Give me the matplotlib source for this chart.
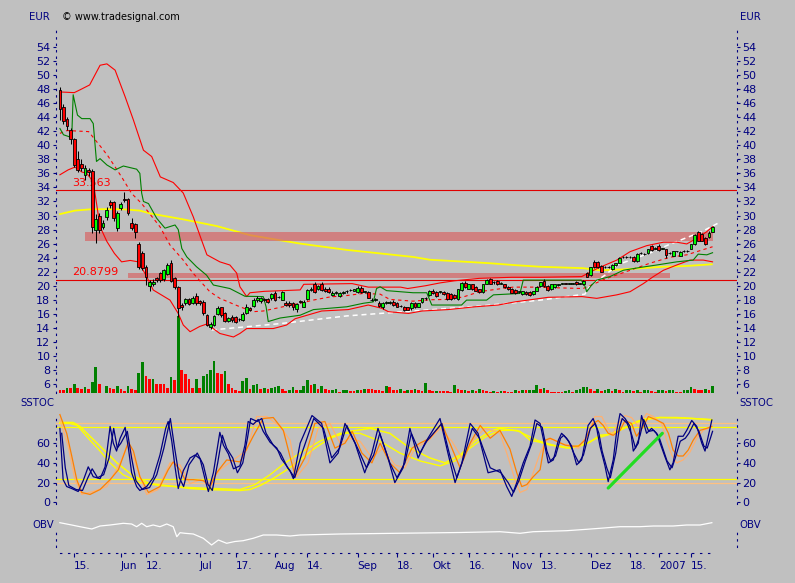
import numpy as np
import pandas as pd
import matplotlib
matplotlib.use("Agg")
import matplotlib.pyplot as plt

W, H = 795, 583
BG = "#C0C0C0"
NAVY = "#000080"

# trading days shown (Xetra, christmas holidays removed)
trading_days = pd.bdate_range("2006-05-09", "2007-01-23")
trading_days = trading_days.drop(pd.to_datetime(["2006-12-25", "2006-12-26", "2007-01-01"]))

opens = [47.9, 45.5, 43.8, 42.2, 40.9, 38.0, 37.3, 35.8, 36.5, 36.4,
         27.9, 29.9, 28.4, 29.8, 31.9, 31.9, 28.2, 31.1, 32.4, 32.3,
         28.9, 28.8, 26.0, 24.7, 22.7, 20.0, 20.2, 21.05, 21.8, 20.9,
         21.7, 23.2, 21.05, 19.8, 17.25, 17.6, 18.1, 17.6, 18.5, 17.8,
         17.7, 15.8, 14.1, 14.4, 16.0, 16.9, 16.05, 15.0, 15.6, 15.5,
         15.2, 15.1, 16.15, 16.8, 17.1, 17.95, 17.8, 18.1, 18.05, 18.2,
         18.9, 18.4, 18.0, 17.6, 17.6, 17.5, 16.7, 17.8, 17.0, 18.1,
         19.4, 20.3, 19.6, 20.3, 19.5, 19.6, 18.7, 19.0, 18.5, 18.9,
         19.2, 19.4, 19.3, 19.15, 19.7, 19.15, 19.15, 18.0, 18.0, 17.55,
         16.9, 17.6, 17.6, 17.7, 17.6, 17.1, 17.0, 16.9, 16.8, 17.5,
         17.0, 17.7, 18.2, 18.7, 19.3, 19.15, 19.1, 19.15, 19.0, 18.8,
         18.7, 18.1, 19.4, 20.4, 19.6, 20.2, 19.8, 19.5, 19.15, 20.3,
         21.0, 20.5, 20.7, 20.3, 20.2, 19.8, 19.6, 19.4, 19.15, 18.8,
         19.15, 19.15, 18.8, 19.3, 19.9, 20.7, 20.0, 19.5, 19.8, 20.15,
         20.3, 20.35, 20.3, 20.3, 20.6, 20.3, 20.2, 21.8, 21.5, 23.4,
         23.4, 22.8, 22.6, 22.6, 22.4, 22.9, 23.3, 24.1, 24.1, 24.1,
         24.1, 23.5, 24.6, 24.5, 24.6, 25.6, 25.3, 25.7, 25.3, 25.2,
         24.6, 24.3, 24.9, 24.3, 24.95, 24.9, 25.3, 25.9, 27.6, 27.35,
         26.75, 26.9, 27.7]
highs = [48.3, 45.9, 44.0, 42.5, 41.0, 39.2, 38.0, 37.2, 36.8, 36.6,
         30.2, 30.4, 29.3, 31.2, 32.2, 32.1, 30.6, 31.9, 33.3, 32.5,
         29.6, 29.0, 26.2, 25.0, 22.9, 20.8, 20.9, 21.2, 22.0, 22.4,
         23.3, 23.7, 21.2, 20.0, 17.6, 18.3, 18.3, 18.6, 18.9, 18.0,
         17.9, 16.0, 14.9, 15.9, 17.1, 17.0, 16.2, 15.6, 15.8, 15.7,
         15.4, 16.2, 17.4, 17.0, 18.3, 18.5, 18.4, 18.3, 18.2, 19.0,
         19.3, 18.6, 19.3, 17.8, 17.8, 17.7, 17.6, 18.0, 17.9, 19.6,
         19.8, 20.6, 20.1, 20.5, 19.8, 19.8, 19.2, 19.2, 19.1, 19.3,
         19.4, 19.6, 19.6, 19.9, 19.9, 19.3, 19.3, 18.2, 18.2, 17.8,
         17.7, 17.8, 17.8, 17.9, 17.7, 17.3, 17.1, 17.0, 17.7, 17.7,
         17.6, 18.3, 18.4, 19.4, 19.5, 19.3, 19.3, 19.3, 19.1, 18.9,
         18.8, 19.6, 20.5, 20.7, 20.3, 20.3, 19.9, 19.6, 20.3, 20.9,
         21.1, 20.7, 20.8, 20.5, 20.3, 19.9, 19.7, 19.5, 19.3, 19.3,
         19.2, 19.2, 19.3, 19.9, 20.6, 20.9, 20.1, 20.3, 20.3, 20.3,
         20.4, 20.4, 20.4, 20.4, 20.7, 20.4, 20.8, 21.9, 22.7, 23.6,
         23.5, 22.9, 22.8, 22.8, 23.1, 23.3, 24.1, 24.3, 24.3, 24.3,
         24.2, 24.6, 24.8, 24.7, 25.3, 25.8, 25.5, 25.9, 25.4, 25.3,
         24.8, 25.0, 25.0, 24.9, 25.1, 25.1, 26.0, 27.3, 27.8, 27.5,
         26.9, 27.8, 28.5]
lows = [43.6, 43.0, 42.2, 40.2, 36.9, 36.2, 36.3, 35.1, 35.6, 27.5,
        26.1, 27.5, 28.1, 29.4, 31.0, 29.2, 27.8, 30.8, 31.9, 30.1,
        28.0, 26.8, 22.4, 22.2, 20.1, 19.2, 20.0, 20.6, 20.6, 20.7,
        21.5, 20.5, 19.6, 15.5, 16.6, 17.3, 17.2, 17.4, 17.2, 17.3,
        15.9, 14.2, 13.8, 14.3, 15.8, 15.6, 14.8, 14.8, 14.9, 14.7,
        15.0, 15.0, 16.0, 16.4, 17.0, 17.7, 17.6, 17.8, 17.5, 18.0,
        17.8, 18.2, 17.9, 17.1, 17.0, 16.6, 16.3, 17.5, 16.9, 17.9,
        19.2, 19.0, 19.4, 19.2, 19.1, 19.0, 18.5, 18.8, 18.4, 18.8,
        19.0, 19.2, 19.2, 19.0, 19.0, 19.0, 18.2, 17.8, 17.8, 17.0,
        16.7, 17.4, 17.4, 17.1, 16.9, 16.9, 16.4, 16.5, 16.6, 16.8,
        16.9, 17.6, 18.0, 18.6, 18.8, 18.4, 19.0, 18.7, 18.0, 18.0,
        18.1, 18.0, 19.3, 19.7, 19.5, 19.4, 19.2, 19.0, 19.0, 20.2,
        20.2, 20.3, 20.1, 20.2, 19.7, 19.4, 18.9, 18.8, 19.0, 18.7,
        18.7, 18.6, 18.7, 19.2, 19.8, 19.8, 19.3, 19.4, 19.7, 20.0,
        20.2, 20.2, 20.2, 20.2, 20.1, 20.2, 20.1, 21.2, 21.4, 22.5,
        22.5, 21.9, 22.5, 22.5, 22.3, 22.8, 23.2, 24.0, 24.0, 24.0,
        23.4, 23.4, 24.5, 24.4, 24.5, 25.0, 25.2, 25.0, 25.2, 24.0,
        24.5, 24.2, 24.8, 24.2, 24.8, 24.8, 25.2, 25.8, 26.3, 26.3,
        25.8, 26.8, 27.6]
closes = [45.2, 43.4, 42.7, 40.9, 37.2, 36.5, 36.8, 36.8, 36.2, 28.4,
          29.5, 27.9, 29.0, 30.8, 31.5, 29.6, 30.4, 31.6, 32.2, 30.4,
          28.2, 27.6, 22.7, 22.5, 21.3, 20.5, 20.6, 20.8, 20.8, 22.2,
          23.0, 20.7, 19.85, 16.8, 17.0, 18.1, 17.4, 18.3, 17.5, 17.6,
          16.05, 14.4, 14.55, 15.7, 16.8, 15.8, 15.0, 15.4, 15.1, 14.9,
          15.2, 15.95, 17.0, 16.6, 17.95, 18.3, 18.2, 18.0, 17.7, 18.8,
          17.9, 18.4, 19.1, 17.3, 17.2, 16.9, 17.4, 17.7, 17.7, 19.4,
          19.6, 19.15, 19.9, 19.4, 19.3, 19.15, 19.0, 19.0, 19.0, 19.15,
          19.2, 19.4, 19.5, 19.7, 19.15, 19.15, 18.3, 17.97, 18.0, 17.1,
          17.5, 17.6, 17.6, 17.25, 17.0, 17.1, 16.5, 16.6, 17.6, 16.9,
          17.5, 18.2, 18.2, 19.3, 18.9, 18.55, 19.2, 18.8, 18.1, 18.1,
          18.2, 19.5, 20.4, 19.8, 20.2, 19.5, 19.3, 19.15, 20.2, 20.8,
          20.3, 20.5, 20.2, 20.3, 19.8, 19.5, 19.0, 18.9, 19.15, 19.2,
          18.8, 18.7, 19.2, 19.8, 20.5, 19.9, 19.4, 20.2, 20.2, 20.15,
          20.3, 20.3, 20.3, 20.3, 20.2, 20.3, 20.7, 21.3, 22.6, 22.7,
          22.6, 22.0, 22.6, 22.6, 23.0, 23.2, 24.0, 24.1, 24.1, 24.1,
          23.5, 24.5, 24.6, 24.5, 25.2, 25.1, 25.3, 25.1, 25.3, 24.4,
          24.6, 24.9, 24.9, 24.8, 24.95, 24.9, 25.9, 27.2, 26.4, 26.4,
          26.0, 27.55, 28.3]
# volume, relative units
volumes = [3.3, 2.7, 5.3, 4.7, 9.3, 5.3, 4.3, 5.7, 3.7, 10.7,
           25.7, 9.3, 0.3, 6.7, 5.3, 4.3, 6.7, 4.3, 2.0, 6.7,
           4.3, 3.3, 20.0, 30.7, 16.7, 13.7, 14.0, 9.3, 9.3, 9.3,
           5.3, 15.7, 12.7, 76.7, 22.7, 18.7, 13.7, 5.3, 13.7, 5.3,
           16.7, 18.7, 22.7, 31.7, 20.0, 18.7, 21.7, 9.3, 5.3, 3.3,
           2.0, 12.0, 14.7, 4.3, 7.7, 8.7, 4.3, 5.3, 4.3, 5.3,
           5.7, 6.7, 4.0, 1.7, 2.7, 6.0, 2.7, 3.0, 6.7, 13.3,
           8.3, 8.7, 4.0, 6.7, 4.0, 2.7, 3.3, 3.5, 0.7, 2.7,
           3.3, 1.7, 1.5, 3.3, 3.0, 4.0, 3.7, 3.5, 3.3, 3.0,
           1.7, 7.3, 6.0, 2.7, 2.5, 4.0, 1.7, 3.3, 2.7, 4.0,
           3.3, 1.7, 10.0, 2.7, 1.7, 1.8, 1.7, 1.6, 1.5, 1.4,
           8.3, 4.0, 2.7, 2.8, 1.7, 3.3, 1.7, 4.0, 3.3, 1.7,
           1.2, 1.7, 0.7, 1.7, 1.5, 0.7, 0.5, 2.7, 1.7, 3.3,
           2.7, 3.3, 3.4, 7.7, 4.3, 4.5, 2.7, 1.0, 0.7, 0.7,
           0.6, 2.0, 2.7, 1.0, 2.7, 4.3, 6.0, 6.2, 4.3, 2.0,
           4.3, 2.0, 3.3, 4.3, 2.0, 4.3, 2.7, 1.0, 2.7, 3.3,
           2.0, 2.7, 0.7, 2.7, 3.3, 2.0, 1.0, 2.7, 3.3, 2.0,
           2.7, 3.3, 1.0, 0.7, 2.7, 3.3, 6.0, 4.3, 3.3, 2.7,
           4.3, 3.3, 6.7]

tick_dates = ["2006-05-15", "2006-06-01", "2006-06-12", "2006-07-03", "2006-07-17",
              "2006-08-01", "2006-08-14", "2006-09-01", "2006-09-18", "2006-10-02",
              "2006-10-16", "2006-11-01", "2006-11-13", "2006-12-01", "2006-12-18",
              "2007-01-02", "2007-01-15"]
tick_labels = ["15.", "Jun", "12.", "Jul", "17.", "Aug", "14.", "Sep", "18.", "Okt",
               "16.", "Nov", "13.", "Dez", "18.", "2007", "15."]

# indicator lines, vertices (bar index, value)
bb_upper_i = [0, 4, 5.6, 8.3, 11.2, 13.1, 15.4, 18.2, 20.5, 23.3, 25.6, 28, 31.6, 34.4, 37.2, 39.5,
              40.5, 41, 44.6, 47.4, 49.3, 50.2, 52.1, 53, 57, 67, 68, 81.5, 86, 95, 97, 102, 106,
              110, 117, 126, 134, 145.5, 150, 155.3, 159, 163.6, 168.3, 172, 174.8, 177.6, 180.4, 182]
bb_upper_v = [47.6, 47.5, 47.9, 48.6, 51.4, 51.6, 50.7, 46.9, 43.6, 39.3, 38.4, 35.5, 34.7, 33.2, 29.8,
              26.5, 25.1, 24.4, 23.4, 22.95, 21.8, 19.85, 18.45, 19.0, 19.2, 19.4, 20.2, 20.3, 19.8,
              19.8, 19.6, 20.0, 20.4, 20.7, 21.05, 21.2, 21.2, 21.3, 22.5, 23.65, 24.85, 25.7, 26.2,
              26.2, 25.95, 26.75, 27.7, 28.4]
bb_lower_i = [0, 2.3, 4.2, 6.1, 7.5, 9.3, 11.2, 13.1, 15.2, 17.2, 19.6, 21.9, 24.2, 26, 30.7, 33,
              34.4, 36.3, 39, 41, 44.6, 48.4, 50.2, 52.1, 59.5, 63.2, 65.6, 73, 80.4, 86, 89.7, 91.6,
              97.2, 101, 108.2, 115.8, 122.2, 126.9, 136.2, 145.6, 149.7, 155.3, 159, 162.7, 165.5,
              168.3, 172, 175.7, 179.4, 182]
bb_lower_v = [35.8, 36.5, 36.9, 36.2, 36.0, 34.8, 28.4, 26.3, 24.6, 23.4, 23.6, 23.4, 21.3, 19.4,
              17.95, 16.05, 14.4, 13.45, 14.2, 14.55, 13.2, 12.7, 13.2, 13.9, 13.9, 14.4, 15.3, 16.4,
              16.6, 17.25, 16.8, 16.3, 16.05, 16.4, 16.6, 17.0, 17.25, 17.7, 18.35, 18.45, 18.2, 18.7,
              19.15, 20.3, 21.3, 22.2, 22.95, 23.65, 23.65, 23.4]
bb_mid_i = [0, 2, 8, 9.8, 11.7, 13.5, 17.2, 20, 22.8, 27.9, 30.7, 34.3, 37.1, 41.8, 44.6, 50.2, 53.9,
            56.7, 62.2, 67, 70.6, 75.3, 80, 84.5, 89.3, 92, 98.5, 103.2, 107.9, 112.5, 117, 121.8,
            126.4, 132, 145.9, 152.5, 159, 164.5, 170.1, 174.8, 177.6, 180.4, 182]
bb_mid_v = [41.7, 42.1, 41.95, 40.8, 39.6, 38.4, 35.5, 33.15, 31.7, 28.4, 25.8, 23.7, 21.8, 19.15,
            18.2, 17.0, 16.3, 16.4, 17.0, 17.5, 17.95, 18.4, 18.6, 18.9, 18.8, 18.05, 17.8, 18.0,
            18.05, 18.4, 19.15, 19.5, 19.8, 19.8, 19.6, 21.05, 22.2, 23.2, 24.05, 24.4, 24.85, 25.3, 25.55]
green_i = [0, 1, 3.3, 3.7, 4.9, 6.1, 8.4, 9.3, 10.2, 11.2, 13.1, 15.4, 17.7, 21.4, 22.3, 22.8, 23.3,
           24.7, 27, 29.3, 32.1, 33, 34, 35.4, 38.1, 40.9, 42.8, 47.4, 51.6, 56.7, 57.5, 58.1, 61.4,
           67, 70.7, 80, 84.6, 87.4, 88.3, 89.3, 91.1, 98.5, 102.3, 103.7, 112, 113.4, 119, 120.9,
           128.3, 129.2, 145.4, 146.4, 146.9, 148.3, 149.7, 153.4, 157.1, 161.8, 166.4, 172, 176.6,
           178, 180.4, 182]
green_v = [42.4, 41.5, 41.1, 47.2, 44.3, 43.8, 43.8, 43.1, 37.7, 38.1, 37.2, 36.5, 37.05, 36.6, 36.0,
           33.2, 32.0, 31.7, 29.6, 28.2, 28.65, 28.0, 25.3, 24.1, 22.7, 21.5, 20.1, 19.6, 18.5, 18.45,
           17.0, 14.9, 15.4, 15.8, 16.6, 17.0, 17.5, 17.7, 19.6, 19.85, 19.3, 19.0, 19.0, 17.25, 17.25,
           17.95, 17.95, 18.7, 18.9, 20.8, 20.8, 19.95, 19.15, 20.1, 20.8, 21.3, 22.2, 22.6, 22.95,
           23.4, 23.65, 24.5, 24.4, 24.7]
white_i = [42.3, 61.4, 80, 98.5, 117, 134, 146.4, 148, 152, 155.6, 160.4, 165, 169.6, 174.3, 179, 183.5]
white_v = [13.7, 14.6, 15.7, 16.4, 17.1, 17.95, 18.8, 20.1, 21.5, 23.0, 23.9, 24.75, 25.8, 26.75, 27.7, 28.9]
ma_i = [0, 4.2, 8.9, 17.2, 22.3, 25.1, 34.4, 43.7, 53, 62.3, 67, 80, 89.3, 98.5, 103.2, 113.5, 120,
        126.4, 134, 145.9, 150.6, 156.2, 168.2, 174.3, 181.8]
ma_v = [30.2, 30.7, 30.9, 30.9, 30.7, 30.3, 29.45, 28.5, 27.2, 26.4, 26.0, 25.1, 24.6, 24.1, 23.7,
        23.4, 23.2, 22.95, 22.7, 22.5, 22.2, 22.3, 22.7, 22.8, 23.05]

levels = [33.563, 20.8799]
level_labels = ["33.563", "20.8799"]
zone_lo = [26.3, 21.05]
zone_hi = [27.65, 21.85]
zone_start = [7.0, 19.0]
zone_end = [182.1, 170.1]

# SSTOC panel
navy1_i = [0, 0.9, 1.9, 3.3, 5.1, 6.5, 7.9, 9.3, 11.2, 12.6, 14, 14.9, 15.8, 16.8, 18.2, 19.1, 20,
           21.4, 22.3, 24.2, 26, 27.9, 29.5, 30.2, 31.2, 32.1, 33, 34.4, 36.3, 37.7, 39.1, 40.5,
           41.4, 42.8, 44.6, 45.6, 47, 48.4, 50.2, 51.6, 52.5, 53.9, 55.3, 56.7, 58.6, 60.5, 61.8,
           64.2, 65.1, 67, 70.3, 73, 75.3, 77.6, 79.5, 82.3, 85, 87, 88.7, 91.5, 93.4, 95.7, 97.6,
           99.9, 101.8, 106, 108.2, 110.2, 112.1, 114.4, 116.6, 119.4, 122.7, 124.6, 126, 127.4,
           129.2, 131.1, 132.5, 133.9, 135.3, 136.2, 137.6, 139, 139.9, 141.3, 142.7, 144.1, 145.5,
           147.3, 148.7, 149.7, 150.6, 152, 152.9, 154.3, 155.3, 156.2, 157.6, 159, 159.9, 161.3,
           162.2, 163.6, 165, 166.4, 168.7, 170.1, 171, 172.4, 173.8, 174.8, 176.2, 177.6, 179,
           179.9, 180.8, 181.8]
navy1_v = [75, 23, 16, 14, 11, 22, 36, 26, 24, 36, 77, 60, 52, 65, 76, 55, 30, 16, 12, 16,
           25, 48, 75, 82, 62, 36, 14, 32, 45, 48, 44, 23, 11, 30, 71, 58, 49, 34, 37, 58,
           82, 79, 84, 72, 61, 55, 44, 32, 24, 60, 88, 80, 40, 50, 80, 60, 30, 50, 75, 45,
           20, 35, 75, 45, 60, 85, 50, 20, 40, 80, 70, 30, 33, 16, 6, 20, 40, 57, 83.5, 80,
           56, 40, 43, 63, 70, 65, 57, 38, 43, 78, 85, 75, 57, 37, 21, 43, 73, 90, 85, 77,
           52, 60, 88, 70, 75, 70, 46.5, 33, 40, 67, 67, 73, 83, 77, 60, 52, 67, 83.5]
navy2_i = [0.5, 1.5, 2.5, 4.5, 6.3, 7.8, 9, 10.5, 12.2, 13.7, 15, 16, 17, 18.8, 20, 21.2, 23, 25,
           27, 29, 30.8, 32, 33.3, 34.5, 36, 38.3, 40, 41.3, 42.5, 44, 45.3, 46.5, 48.2, 49.5, 51,
           52.3, 53.2, 55, 56.3, 57.5, 59.5, 61.5, 63.5, 65.5, 67.5, 70.8, 73.5, 75.8, 78, 80, 83,
           85.5, 87.5, 89.2, 92, 94, 96.2, 98, 100.4, 102.3, 106.5, 108.7, 110.7, 112.6, 115, 117,
           120, 123, 125, 126.5, 128, 129.8, 131.6, 133, 134.5, 135.8, 136.8, 138.2, 139.6, 140.5,
           141.9, 143.3, 144.7, 146, 147.9, 149.3, 150.3, 151.2, 152.5, 153.5, 155, 156, 156.8,
           158.2, 159.5, 160.5, 161.8, 162.8, 164.2, 165.6, 167, 169.3, 170.7, 171.6, 173, 174.4,
           175.4, 176.8, 178.2, 179.6, 180.5, 181.4, 182]
navy2_v = [70, 35, 17, 13, 12, 25, 34, 25, 28, 45, 75, 55, 60, 72, 45, 22, 13, 15, 28, 55,
           85, 55, 25, 16, 38, 50, 38, 18, 12, 40, 68, 55, 45, 30, 40, 65, 85, 82, 85, 70,
           58, 50, 35, 25, 50, 85, 75, 45, 55, 78, 55, 35, 48, 70, 40, 25, 40, 70, 50, 62,
           80, 48, 25, 45, 75, 65, 35, 30, 20, 10, 22, 42, 60, 80, 76, 52, 42, 47, 65, 68,
           62, 50, 40, 48, 75, 80, 70, 52, 35, 25, 50, 75, 85, 80, 68, 55, 68, 84, 72, 73,
           67, 42, 35, 45, 62, 65, 70, 80, 72, 57, 55, 65, 72]
orange_i = [0, 1.9, 3.3, 4.7, 6.1, 8.4, 11.2, 14, 16.3, 19.1, 20.5, 22.3, 24.7, 27.9, 30.2, 31.6,
            33.5, 34.9, 37.2, 40, 41.9, 43.7, 46.5, 50.2, 53.9, 56.7, 59.5, 62.3, 64.2, 65.6, 68.3,
            71.1, 73.9, 76.7, 79.5, 81.5, 84.2, 87, 89.3, 92, 94.8, 98.2, 100.4, 103.2, 106.5,
            109.3, 111.6, 114.4, 117.2, 120, 122.7, 125.5, 127.4, 128.8, 130.2, 132, 133.9, 135.3,
            136.7, 138.5, 140.9, 142.7, 144.6, 146.4, 148.7, 150.1, 151.5, 152.9, 154.3, 156.2,
            157.6, 159.4, 160.8, 162.7, 164.1, 166.4, 168.3, 169.7, 171, 172.4, 173.8, 175.2,
            176.6, 178.5, 180.4, 181.8]
orange_v = [89, 70, 47, 23, 10, 8, 13, 23, 33, 61, 52, 26, 10, 16, 33, 41, 33, 23, 23, 22,
            16, 30, 43, 41, 67, 85, 86, 73, 46, 27, 45, 80, 82, 55, 60, 72, 50, 40, 60, 40,
            30, 55, 60, 65, 80, 55, 35, 60, 78, 65, 73, 54, 30, 16, 18, 26, 33, 63, 65, 62,
            58, 57, 57, 63, 80, 83, 78, 70, 68, 73, 83, 80, 67, 77, 87, 83.5, 80, 70, 53, 47,
            47, 53, 63, 73, 75, 77]
peach_i = [0, 2.3, 4.2, 6.1, 9.3, 13.1, 16.8, 19.1, 21.4, 24.2, 27.4, 30.7, 33.5, 36.3, 39.1,
           41.9, 44.6, 48.4, 52.1, 54.9, 57.7, 61.4, 64.2, 66, 69.2, 72, 75.3, 78.1, 80.9, 83.7,
           87, 90.1, 93.4, 96.2, 99, 102.6, 106, 109.3, 112.1, 115.7, 118.5, 121.3, 122.7, 124.6,
           126.9, 128.3, 130.2, 132, 133.9, 135.7, 137.5, 139.5, 142.2, 144.6, 146.9, 149.2,
           151.1, 152.5, 153.9, 155.7, 157.6, 159.4, 161.3, 163.6, 165.5, 167.8, 169.2, 170.6,
           172, 173.8, 175.7, 177.6, 179.4, 181.8]
peach_v = [84, 57, 23, 8, 11, 16, 40, 60, 36, 8, 13, 40, 38, 19, 23, 19, 33, 43, 53, 87,
           87, 77, 63, 26, 40, 75, 80, 60, 65, 62, 45, 55, 38, 35, 55, 62, 75, 62, 45, 65,
           75, 72, 70, 50, 23, 10, 13, 30, 50, 63, 64, 60, 58, 55, 67, 87, 87, 77, 68, 80,
           88, 86, 77, 90, 87, 80, 63, 48, 40, 43, 51, 65, 73, 77]
slow_a_i = [0, 3.7, 5.6, 11.2, 15.9, 20.4, 25.1, 32.1, 36.3, 41, 50.2, 53, 55.8, 59.4, 63.3, 67,
            71.1, 75.3, 80.9, 86.5, 92, 97.6, 103.2, 107.4, 111.6, 115.7, 120, 122.7, 128.3,
            131.1, 133.9, 136.7, 139.5, 142.3, 145, 147.8, 150.6, 153.4, 156.2, 159.9, 163.6,
            167.3, 172, 176.6, 181.8]
slow_a_v = [81, 81, 77, 57, 40, 27, 19, 16, 14, 13, 12, 13, 17, 24, 33, 43, 55, 65, 72, 75,
            70, 55, 45, 40, 48, 62, 72, 75, 72, 63, 61, 58, 57, 55, 57, 61, 68, 69, 73, 80,
            84, 86, 86, 85, 83.5]
slow_b_i = [0, 2.8, 4.8, 8.4, 11.2, 14, 17.6, 22.3, 27.9, 36.3, 50.2, 54.4, 58.6, 62.8, 67, 72.5,
            78.1, 83.7, 89.3, 94.8, 100.4, 106, 110.2, 114.4, 118.5, 122.7, 127.4, 130.2, 133,
            135.7, 138.5, 141.3, 144.1, 146.9, 149.7, 152.5, 155.3, 158.1, 160.8, 163.6, 167.3,
            174, 181.8]
slow_b_v = [80, 80, 78, 63, 52, 40, 28, 20, 17, 15, 13, 18, 28, 40, 50, 62, 70, 70, 62, 50,
            42, 37, 42, 55, 66, 73, 73, 68, 63, 60, 57, 55, 57, 60, 65, 68, 72, 77, 82, 85,
            86, 85.5, 84]
div_i = [152.9, 168]
div_v = [14.5, 70]

obv_i = [0, 3.3, 5.6, 8.9, 11.2, 14, 17.7, 20, 21.4, 22.8, 24.2, 26, 27.9, 29.8, 31.6, 32.6, 33.5,
         34.9, 37.2, 40, 42.3, 44.2, 46.5, 48.8, 51.1, 53.9, 56.7, 60.5, 64.2, 67, 78.1, 89.3,
         100.4, 111.6, 122.7, 128.3, 132, 141.3, 146.9, 150.6, 156.2, 161.7, 165.5, 171, 174.8,
         178.5, 181.8]
obv_v = [22.3, 20, 18.3, 16, 19, 20, 21.7, 21, 18.3, 21.7, 18.3, 20, 18.3, 21, 18.3, 8.3, 12.3,
         11.7, 11, 6.7, 0, 5, 1.7, 3.5, 4.3, 6.7, 10, 10, 9, 10, 11, 11.5, 12, 12.5, 13.3, 11.7,
         13.3, 14.3, 15.7, 16.7, 18.3, 18.3, 19, 19, 20, 20, 22.3]

# ---------------------------------------------------------------- layout
fig = plt.figure(figsize=(W / 100, H / 100), dpi=100, facecolor=BG)
AX_L, AX_R = 56, 737
BAR_X0, BAR_DX = 59.9, 3.586   # pixel of first bar and bar spacing
XLIM = ((AX_L - BAR_X0) / BAR_DX, (AX_R - BAR_X0) / BAR_DX)


def frame(top, bottom):
    return [AX_L / W, 1 - bottom / H, (AX_R - AX_L) / W, (bottom - top) / H]


def dotted_axis(a, bounds=None):
    for side in ["top", "bottom"]:
        a.spines[side].set_visible(False)
    for side in ["left", "right"]:
        sp = a.spines[side]
        sp.set_color(NAVY)
        sp.set_linewidth(0.8)
        sp.set_linestyle((0, (1.2, 4.6)))
        if bounds is not None:
            sp.set_bounds(*bounds)
    a.set_facecolor("none")
    a.set_xlim(*XLIM)
    a.tick_params(axis="y", direction="out", length=2.5, width=0.8, color=NAVY,
                  labelcolor=NAVY, labelsize=8, pad=1.5,
                  left=True, right=True, labelleft=True, labelright=True)
    a.tick_params(axis="x", bottom=False, labelbottom=False)


def fig_text(x, y, s, size=7.3, **kw):
    fig.text(x / W, 1 - y / H, s, fontsize=size, va="center", **kw)


idx = np.arange(len(closes))
o, h, l, c = (np.array(v) for v in (opens, highs, lows, closes))
vol = np.array(volumes)

# ---------------------------------------------------------------- price panel
ax = fig.add_axes(frame(27, 393))
axv = ax.twinx()
axv.set_zorder(0)
ax.set_zorder(1)
axv.set_facecolor("none")
for sp in axv.spines.values():
    sp.set_visible(False)
axv.set_yticks([])
vol_up = np.r_[False, vol[1:] > vol[:-1]]
axv.bar(idx, vol, width=0.75, color=np.where(vol_up, "#008000", "#FF0000"), linewidth=0)
axv.set_ylim(0, vol.max() / 0.2096)
axv.set_xlim(*XLIM)

dotted_axis(ax)
ax.set_ylim(4.72, 56.85)
ax.set_yticks(np.arange(6, 55, 2))

ax.plot(ma_i, ma_v, color="#FFFF00", lw=1.3, zorder=2)
for lo, hi, x0, x1 in zip(zone_lo, zone_hi, zone_start, zone_end):
    ax.fill_between([x0, x1], lo, hi, color="#D76565", alpha=0.7, lw=0, zorder=3)
for lev, lab in zip(levels, level_labels):
    ax.axhline(lev, color="#E00000", lw=0.8, zorder=3.5)
    ax.text(3.5, lev + 0.3, lab, color="#FF0000", fontsize=8, va="bottom", ha="left", zorder=3.6)

ax.plot(white_i, white_v, color="white", lw=1.1, dashes=(3.3, 2.5), zorder=4)
ax.plot(bb_upper_i, bb_upper_v, color="#FF0000", lw=0.8, zorder=5)
ax.plot(bb_lower_i, bb_lower_v, color="#FF0000", lw=0.8, zorder=5)
ax.plot(bb_mid_i, bb_mid_v, color="#FF0000", lw=0.8, dashes=(3, 3), zorder=5)
ax.plot(green_i, green_v, color="#008000", lw=0.8, zorder=5)

up = c >= o
body_lo = np.minimum(o, c)
body_h = np.maximum(np.abs(c - o), 0.04)
ax.vlines(idx, l, h, color="black", lw=0.75, zorder=6)
ax.bar(idx, body_h, bottom=body_lo, width=0.78, color=np.where(up, "#00FF00", "#FF0000"),
       edgecolor="black", linewidth=0.6, zorder=7)

# ---------------------------------------------------------------- SSTOC panel
ax_st = fig.add_axes(frame(408, 512))
dotted_axis(ax_st, bounds=(-2, 90))
ax_st.set_ylim(-9.8, 95.66)
ax_st.set_yticks([0, 20, 40, 60])
for lev, col in [(80, "#FFC080"), (20, "#FFC080"), (76, "#FFFF00"), (24, "#FFFF00")]:
    ax_st.axhline(lev, color=col, lw=0.9, zorder=1)
ax_st.plot(slow_a_i, slow_a_v, color="#FFFF00", lw=1.1, zorder=2)
ax_st.plot(slow_b_i, slow_b_v, color="#FFFF00", lw=1.0, zorder=2)
ax_st.plot(peach_i, peach_v, color="#FFB070", lw=0.9, zorder=3)
ax_st.plot(orange_i, orange_v, color="#FF8000", lw=0.9, zorder=3)
ax_st.plot(navy2_i, navy2_v, color=NAVY, lw=0.9, zorder=4)
ax_st.plot(navy1_i, navy1_v, color=NAVY, lw=0.9, zorder=4)
ax_st.plot(div_i, div_v, color="#22DD22", lw=2.3, solid_capstyle="round", zorder=5)

# ---------------------------------------------------------------- OBV panel
ax_obv = fig.add_axes(frame(513, 553))
dotted_axis(ax_obv, bounds=(-2, 13))
ax_obv.set_ylim(-8, 32)
ax_obv.set_yticks([])
ax_obv.plot(obv_i, obv_v, color="white", lw=0.9)

bottom = ax_obv.spines["bottom"]
bottom.set_visible(True)
bottom.set_color(NAVY)
bottom.set_linewidth(0.8)
bottom.set_linestyle((0, (1.2, 6)))
bottom.set_bounds(0, len(closes) - 1)
tick_idx = [trading_days.get_loc(pd.Timestamp(d)) for d in tick_dates]
ax_obv.set_xticks(tick_idx, tick_labels)
ax_obv.tick_params(axis="x", bottom=True, labelbottom=True, direction="out", length=3,
                   width=0.8, color=NAVY, labelcolor=NAVY, labelsize=7.6, pad=3)
for lab in ax_obv.get_xticklabels():
    lab.set_horizontalalignment("left")

# ---------------------------------------------------------------- labels
fig_text(50, 17, "EUR", color=NAVY, ha="right")
fig_text(62, 17, "\u00a9 www.tradesignal.com", size=7, color="black", ha="left")
fig_text(740, 17, "EUR", color=NAVY, ha="left")
fig_text(54, 403, "SSTOC", color=NAVY, ha="right")
fig_text(739, 403, "SSTOC", color=NAVY, ha="left")
fig_text(54, 525, "OBV", color=NAVY, ha="right")
fig_text(739, 525, "OBV", color=NAVY, ha="left")

fig.savefig("out.png", dpi=100, facecolor=BG)
